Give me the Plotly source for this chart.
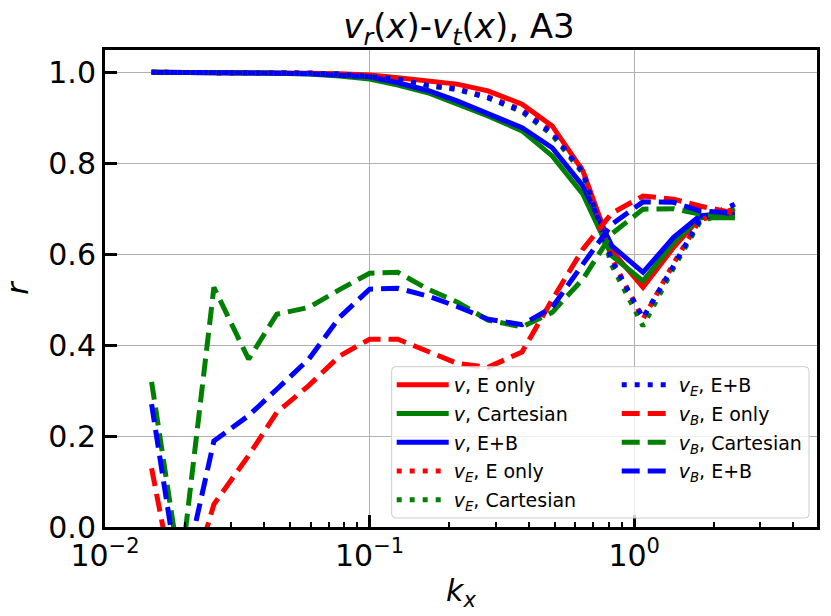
import plotly.graph_objects as go

kx = [0.0150, 0.0193, 0.0258, 0.0349, 0.0446, 0.0589, 0.0770, 0.100, 0.128, 0.166,
      0.214, 0.280, 0.377, 0.490, 0.640, 0.824, 1.08, 1.41, 1.77, 2.40]

v_eonly = [1.000, 1.000, 1.000, 1.000, 0.999, 0.998, 0.997, 0.994, 0.988, 0.981,
           0.974, 0.959, 0.930, 0.882, 0.783, 0.607, 0.527, 0.615, 0.680, 0.690]
v_cart = [1.000, 1.000, 1.000, 0.999, 0.998, 0.996, 0.992, 0.985, 0.972, 0.955,
          0.931, 0.904, 0.871, 0.816, 0.732, 0.596, 0.541, 0.625, 0.680, 0.680]
v_eb = [1.000, 1.000, 1.000, 0.999, 0.998, 0.997, 0.993, 0.990, 0.977, 0.960,
        0.937, 0.908, 0.878, 0.834, 0.750, 0.618, 0.560, 0.637, 0.684, 0.692]

vE_eonly = [1.000, 1.000, 1.000, 1.000, 0.999, 0.998, 0.996, 0.992, 0.986, 0.972,
            0.964, 0.946, 0.918, 0.870, 0.785, 0.590, 0.457, 0.580, 0.675, 0.700]
vE_cart = [1.000, 1.000, 1.000, 1.000, 0.999, 0.998, 0.996, 0.991, 0.985, 0.970,
           0.962, 0.944, 0.913, 0.862, 0.778, 0.575, 0.442, 0.570, 0.670, 0.700]
vE_eb = [1.000, 1.000, 1.000, 1.000, 0.999, 0.998, 0.996, 0.991, 0.985, 0.971,
         0.963, 0.944, 0.915, 0.866, 0.780, 0.585, 0.460, 0.575, 0.675, 0.710]

vB_eonly = [0.129, -0.200, 0.050, 0.157, 0.252, 0.311, 0.376, 0.413, 0.413, 0.385,
            0.360, 0.351, 0.385, 0.500, 0.611, 0.690, 0.728, 0.721, 0.706, 0.690]
vB_cart = [0.319, -0.100, 0.527, 0.369, 0.468, 0.483, 0.522, 0.558, 0.560, 0.523,
           0.495, 0.455, 0.440, 0.472, 0.545, 0.645, 0.699, 0.700, 0.688, 0.680]
vB_eb = [0.270, -0.140, 0.189, 0.245, 0.303, 0.369, 0.461, 0.523, 0.525, 0.508,
         0.485, 0.457, 0.445, 0.483, 0.578, 0.666, 0.715, 0.714, 0.695, 0.690]

x_tick_vals = [0.01, 0.1, 1]
x_tick_text = ["10<sup>\u22122</sup>", "10<sup>\u22121</sup>", "10<sup>0</sup>"]
x_minor_vals = [0.02, 0.03, 0.04, 0.05, 0.06, 0.07, 0.08, 0.09,
                0.2, 0.3, 0.4, 0.5, 0.6, 0.7, 0.8, 0.9, 2, 3, 4]
y_tick_vals = [0.0, 0.2, 0.4, 0.6, 0.8, 1.0]

RED, GREEN, BLUE = "rgb(255,0,0)", "rgb(0,128,0)", "rgb(0,0,255)"
LW = 5
DASH = "18px,8px"
DOT = "5px,8px"

series = [
    ("<i>v</i>, E only", v_eonly, RED, "solid", "legend"),
    ("<i>v</i>, Cartesian", v_cart, GREEN, "solid", "legend"),
    ("<i>v</i>, E+B", v_eb, BLUE, "solid", "legend"),
    ("<i>v</i><sub><i>E</i></sub>, E only", vE_eonly, RED, DOT, "legend"),
    ("<i>v</i><sub><i>E</i></sub>, Cartesian", vE_cart, GREEN, DOT, "legend"),
    ("<i>v</i><sub><i>E</i></sub>, E+B", vE_eb, BLUE, DOT, "legend2"),
    ("<i>v</i><sub><i>B</i></sub>, E only", vB_eonly, RED, DASH, "legend2"),
    ("<i>v</i><sub><i>B</i></sub>, Cartesian", vB_cart, GREEN, DASH, "legend2"),
    ("<i>v</i><sub><i>B</i></sub>, E+B", vB_eb, BLUE, DASH, "legend2"),
]

fig = go.Figure()
for i, (name, ys, col, dash, leg) in enumerate(series):
    fig.add_trace(go.Scatter(
        x=kx, y=ys, mode="lines", name=name,
        line=dict(color=col, width=LW, dash=dash),
        legend=leg, legendgroup="g%d" % i,
    ))

# plot area geometry in px
L, R, T, B = 105, 14, 50, 89
W, H = 831, 616
pw, ph = W - L - R, H - T - B

def px2paper(x, y):
    return (x - L) / pw, (H - B - y) / ph

# legend box (rounded)
bx0, by0 = px2paper(391.7, 518)
bx1, by1 = px2paper(809, 366.7)
rx, ry = 4 / pw, 4 / ph
path = (f"M{bx0+rx},{by0} L{bx1-rx},{by0} Q{bx1},{by0} {bx1},{by0+ry} "
        f"L{bx1},{by1-ry} Q{bx1},{by1} {bx1-rx},{by1} L{bx0+rx},{by1} "
        f"Q{bx0},{by1} {bx0},{by1-ry} L{bx0},{by0+ry} Q{bx0},{by0} {bx0+rx},{by0} Z")
fig.add_shape(type="path", path=path, xref="paper", yref="paper",
              fillcolor="rgba(255,255,255,0.8)", line=dict(color="#cccccc", width=1),
              layer="above")

leg_font = dict(family="DejaVu Sans", size=19, color="black")
lx1, ly1 = px2paper(391.7, 366)
lx2, _ = px2paper(616.7, 366)

fig.update_layout(
    width=W, height=H,
    margin=dict(l=L, r=R, t=T, b=B, autoexpand=False),
    paper_bgcolor="white", plot_bgcolor="white",
    font=dict(family="DejaVu Sans", size=30, color="black"),
    title=dict(text="<i>v</i><sub><i>r</i></sub>(<i>x</i>)-<i>v</i><sub><i>t</i></sub>(<i>x</i>), A3",
               x=(459) / W, xanchor="center", y=1 - 26 / H, yanchor="middle",
               yref="container", xref="container",
               font=dict(size=34, family="DejaVu Sans", color="black")),
    showlegend=True,
    legend=dict(x=lx1, y=ly1, xanchor="left", yanchor="top", bgcolor="rgba(0,0,0,0)",
                borderwidth=0, font=leg_font, tracegroupgap=1, itemwidth=52,
                traceorder="grouped"),
    legend2=dict(x=lx2, y=ly1, xanchor="left", yanchor="top", bgcolor="rgba(0,0,0,0)",
                 borderwidth=0, font=leg_font, tracegroupgap=1, itemwidth=52,
                 traceorder="grouped"),
    xaxis=dict(
        type="log", range=[-2, 0.691],
        tickvals=x_tick_vals, ticktext=x_tick_text,
        ticks="inside", ticklen=12, tickwidth=3, tickcolor="black",
        showline=True, linewidth=3, linecolor="black", mirror=True,
        showgrid=True, gridcolor="#b0b0b0", gridwidth=1.3,
        minor=dict(tickvals=x_minor_vals, ticks="inside", ticklen=5, tickwidth=1.6,
                   tickcolor="black", showgrid=False),
        tickfont=dict(size=30),
        title=dict(text="<i>k</i><sub><i>x</i></sub>", font=dict(size=30), standoff=8),
        zeroline=False,
    ),
    yaxis=dict(
        range=[0, 1.049],
        tickvals=y_tick_vals, tickformat=".1f",
        ticks="inside", ticklen=12, tickwidth=3, tickcolor="black",
        showline=True, linewidth=3, linecolor="black", mirror=True,
        showgrid=True, gridcolor="#b0b0b0", gridwidth=1.3,
        tickfont=dict(size=30),
        title=dict(text="<i>r</i>", font=dict(size=30), standoff=16),
        zeroline=False,
    ),
)

fig.write_html("out.html", config={"displayModeBar": False},
               post_script="document.body.style.margin='0px';")
